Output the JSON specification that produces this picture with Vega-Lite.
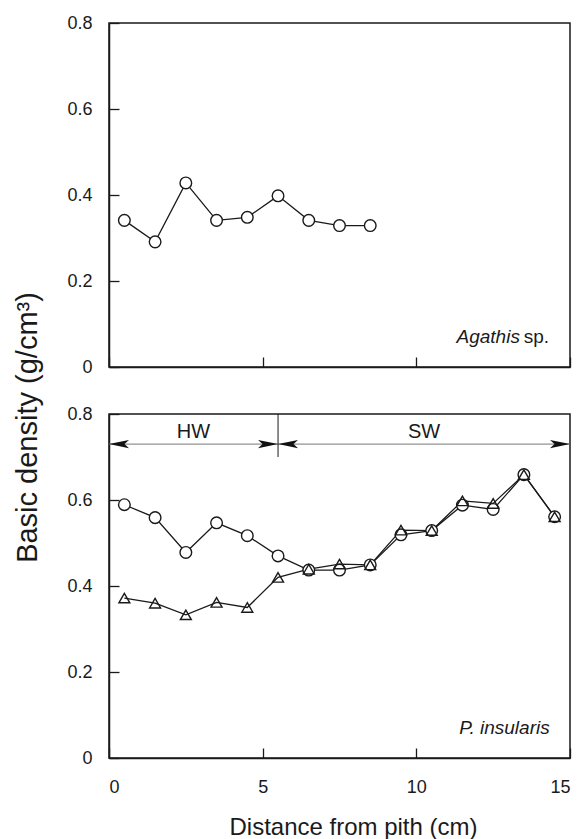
{
  "$schema": "https://vega.github.io/schema/vega-lite/v6.json",
  "padding": {"left": 12, "top": 13, "right": 5, "bottom": 5},
  "background": "white",
  "config": {
    "font": "Liberation Sans, Arial, sans-serif",
    "view": {"stroke": "#1a1a1a", "strokeWidth": 1.5},
    "axis": {
      "domainColor": "#1a1a1a", "domainWidth": 1.5,
      "tickColor": "#1a1a1a", "tickWidth": 1.3, "tickSize": -10,
      "grid": false,
      "labelFontSize": 18, "labelColor": "#1a1a1a",
      "titleFontSize": 24, "titleFontWeight": "normal", "titleColor": "#1a1a1a"
    },
    "axisX": {"labelPadding": 30},
    "axisY": {"labelPadding": 27}
  },
  "datasets": {
    "agathis": [
      {"x": 0.5, "density": 0.341},
      {"x": 1.5, "density": 0.291},
      {"x": 2.5, "density": 0.428},
      {"x": 3.5, "density": 0.341},
      {"x": 4.5, "density": 0.348},
      {"x": 5.5, "density": 0.398},
      {"x": 6.5, "density": 0.341},
      {"x": 7.5, "density": 0.329},
      {"x": 8.5, "density": 0.329}
    ],
    "pinsularis": [
      {"x": 0.5, "density": 0.589, "series": "circle"},
      {"x": 1.5, "density": 0.559, "series": "circle"},
      {"x": 2.5, "density": 0.478, "series": "circle"},
      {"x": 3.5, "density": 0.547, "series": "circle"},
      {"x": 4.5, "density": 0.517, "series": "circle"},
      {"x": 5.5, "density": 0.470, "series": "circle"},
      {"x": 6.5, "density": 0.437, "series": "circle"},
      {"x": 7.5, "density": 0.437, "series": "circle"},
      {"x": 8.5, "density": 0.449, "series": "circle"},
      {"x": 9.5, "density": 0.519, "series": "circle"},
      {"x": 10.5, "density": 0.529, "series": "circle"},
      {"x": 11.5, "density": 0.588, "series": "circle"},
      {"x": 12.5, "density": 0.578, "series": "circle"},
      {"x": 13.5, "density": 0.659, "series": "circle"},
      {"x": 14.5, "density": 0.561, "series": "circle"},
      {"x": 0.5, "density": 0.372, "series": "triangle"},
      {"x": 1.5, "density": 0.360, "series": "triangle"},
      {"x": 2.5, "density": 0.333, "series": "triangle"},
      {"x": 3.5, "density": 0.362, "series": "triangle"},
      {"x": 4.5, "density": 0.350, "series": "triangle"},
      {"x": 5.5, "density": 0.420, "series": "triangle"},
      {"x": 6.5, "density": 0.439, "series": "triangle"},
      {"x": 7.5, "density": 0.451, "series": "triangle"},
      {"x": 8.5, "density": 0.449, "series": "triangle"},
      {"x": 9.5, "density": 0.530, "series": "triangle"},
      {"x": 10.5, "density": 0.529, "series": "triangle"},
      {"x": 11.5, "density": 0.598, "series": "triangle"},
      {"x": 12.5, "density": 0.592, "series": "triangle"},
      {"x": 13.5, "density": 0.659, "series": "triangle"},
      {"x": 14.5, "density": 0.561, "series": "triangle"}
    ],
    "arrowline": [{"x": 0, "x2": 15, "y": 0.73}],
    "divider": [{"x": 5.5, "y": 0.8, "y2": 0.70}],
    "headsLeft": [{"x": 0, "y": 0.73}, {"x": 5.5, "y": 0.73}],
    "headsRight": [{"x": 5.5, "y": 0.73}, {"x": 15, "y": 0.73}],
    "zones": [{"x": 2.75, "y": 0.757, "label": "HW"}, {"x": 10.25, "y": 0.757, "label": "SW"}],
    "topItalic": [{"x": 13.37, "y": 0.07, "label": "Agathis"}],
    "topPlain": [{"x": 14.32, "y": 0.07, "label": "sp."}],
    "bottomLabel": [{"x": 14.34, "y": 0.07, "label": "P. insularis"}]
  },
  "bounds": "flush",
  "spacing": 47,
  "vconcat": [
    {
      "width": 461,
      "height": 344,
      "encoding": {
        "x": {"field": "x", "type": "quantitative", "scale": {"domain": [0, 15], "nice": false},
              "axis": {"title": null, "labels": false, "values": [0, 5, 10, 15]}},
        "y": {"field": "density", "type": "quantitative", "scale": {"domain": [0, 0.8], "nice": false},
              "axis": {"title": null, "values": [0, 0.2, 0.4, 0.6, 0.8], "format": ".1~f"}}
      },
      "layer": [
        {"data": {"name": "agathis"}, "mark": {"type": "line", "color": "#1a1a1a", "strokeWidth": 1.3}},
        {"data": {"name": "agathis"}, "mark": {"type": "point", "shape": "circle", "size": 135, "filled": false, "fill": "white", "fillOpacity": 1, "stroke": "#1a1a1a", "strokeWidth": 1.4, "opacity": 1}},
        {"data": {"name": "topItalic"},
         "mark": {"type": "text", "align": "right", "baseline": "middle", "fontStyle": "italic", "fontSize": 19, "color": "#1a1a1a"},
         "encoding": {"x": {"field": "x", "type": "quantitative"}, "y": {"field": "y", "type": "quantitative"}, "text": {"field": "label"}}},
        {"data": {"name": "topPlain"},
         "mark": {"type": "text", "align": "right", "baseline": "middle", "fontSize": 19, "color": "#1a1a1a"},
         "encoding": {"x": {"field": "x", "type": "quantitative"}, "y": {"field": "y", "type": "quantitative"}, "text": {"field": "label"}}}
      ]
    },
    {
      "width": 461,
      "height": 344,
      "encoding": {
        "x": {"field": "x", "type": "quantitative", "scale": {"domain": [0, 15], "nice": false},
              "axis": {"title": "Distance from pith (cm)", "values": [0, 5, 10, 15], "format": "d",
                       "titleX": 244, "titleY": 76, "titleBaseline": "alphabetic", "titleAlign": "center"}},
        "y": {"field": "density", "type": "quantitative", "scale": {"domain": [0, 0.8], "nice": false},
              "axis": {"title": "Basic density (g/cm³)", "values": [0, 0.2, 0.4, 0.6, 0.8], "format": ".1~f",
                       "titleFontSize": 29,
                       "titleX": -73, "titleY": 13, "titleAngle": -90, "titleBaseline": "alphabetic", "titleAlign": "center"}}
      },
      "layer": [
        {"data": {"name": "arrowline"}, "mark": {"type": "rule", "color": "#777777", "strokeWidth": 1},
         "encoding": {"x": {"field": "x", "type": "quantitative"}, "x2": {"field": "x2"}, "y": {"field": "y", "type": "quantitative"}}},
        {"data": {"name": "divider"}, "mark": {"type": "rule", "color": "#1a1a1a", "strokeWidth": 1},
         "encoding": {"x": {"field": "x", "type": "quantitative"}, "y": {"field": "y", "type": "quantitative"}, "y2": {"field": "y2"}}},
        {"data": {"name": "headsLeft"},
         "mark": {"type": "point", "shape": "M0,0 L2,-0.42 L1.55,0 L2,0.42 Z", "size": 400, "filled": true, "color": "#111111", "opacity": 1, "strokeWidth": 0},
         "encoding": {"x": {"field": "x", "type": "quantitative"}, "y": {"field": "y", "type": "quantitative"}}},
        {"data": {"name": "headsRight"},
         "mark": {"type": "point", "shape": "M0,0 L-2,-0.42 L-1.55,0 L-2,0.42 Z", "size": 400, "filled": true, "color": "#111111", "opacity": 1, "strokeWidth": 0},
         "encoding": {"x": {"field": "x", "type": "quantitative"}, "y": {"field": "y", "type": "quantitative"}}},
        {"data": {"name": "zones"},
         "mark": {"type": "text", "align": "center", "baseline": "middle", "fontSize": 20, "color": "#1a1a1a"},
         "encoding": {"x": {"field": "x", "type": "quantitative"}, "y": {"field": "y", "type": "quantitative"}, "text": {"field": "label"}}},
        {"data": {"name": "bottomLabel"},
         "mark": {"type": "text", "align": "right", "baseline": "middle", "fontStyle": "italic", "fontSize": 19, "color": "#1a1a1a"},
         "encoding": {"x": {"field": "x", "type": "quantitative"}, "y": {"field": "y", "type": "quantitative"}, "text": {"field": "label"}}},
        {"data": {"name": "pinsularis"}, "mark": {"type": "line", "color": "#1a1a1a", "strokeWidth": 1.3},
         "encoding": {"detail": {"field": "series"}}},
        {"data": {"name": "pinsularis"}, "transform": [{"filter": "datum.series == 'circle'"}],
         "mark": {"type": "point", "shape": "circle", "size": 135, "filled": false, "fill": "white", "fillOpacity": 1, "stroke": "#1a1a1a", "strokeWidth": 1.4, "opacity": 1}},
        {"data": {"name": "pinsularis"}, "transform": [{"filter": "datum.series == 'triangle'"}],
         "mark": {"type": "point", "shape": "triangle-up", "size": 120, "filled": false, "fill": "white", "fillOpacity": 0, "stroke": "#1a1a1a", "strokeWidth": 1.4, "opacity": 1}}
      ]
    }
  ]
}
